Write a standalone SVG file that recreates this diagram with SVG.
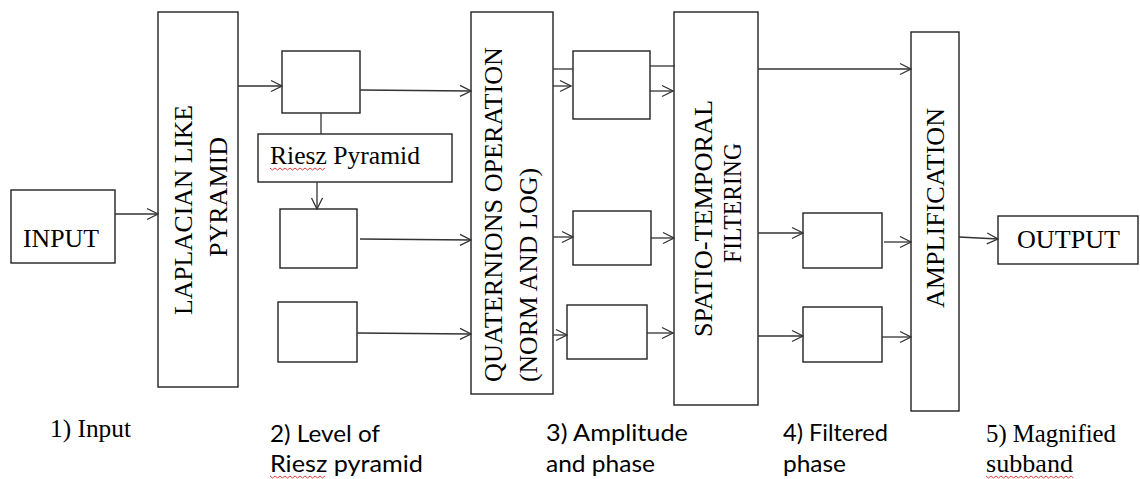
<svg xmlns="http://www.w3.org/2000/svg" width="1140" height="479" viewBox="0 0 1140 479">
<style>
.box{fill:#fff;stroke:#222;stroke-width:1.4}
.t{font-family:"Liberation Serif","Times New Roman",serif;font-size:25.5px;fill:#000}
.s{font-family:Lato,"Liberation Sans",sans-serif;font-size:23px;fill:#000}
.c{fill:none;stroke:#333;stroke-width:1.3}
.w{fill:none;stroke:#e04040;stroke-width:1}
</style>
<defs>
<marker id="a" markerUnits="userSpaceOnUse" markerWidth="14" markerHeight="14" viewBox="0 0 14 14" refX="13" refY="7" orient="auto">
<path d="M2,1.5 L13,7 L2,12.5" fill="none" stroke="#333" stroke-width="1.3"/>
</marker>
</defs>
<rect width="1140" height="479" fill="#fff"/>

<g id="input"><rect class="box" x="11" y="190" width="104" height="73"/><text class="t" x="23" y="247" textLength="76" lengthAdjust="spacingAndGlyphs">INPUT</text></g>
<g id="laplacian"><rect class="box" x="158" y="12" width="80" height="375"/>
<text class="t" transform="translate(192,315) rotate(-90)" textLength="210" lengthAdjust="spacingAndGlyphs">LAPLACIAN LIKE</text>
<text class="t" transform="translate(227,257) rotate(-90)" textLength="120" lengthAdjust="spacingAndGlyphs">PYRAMID</text></g>
<g id="level1"><rect class="box" x="282" y="51" width="78" height="62"/></g>
<g id="riesz"><rect class="box" x="258" y="134" width="194" height="48"/><text class="t" x="270" y="164" textLength="150" lengthAdjust="spacingAndGlyphs">Riesz Pyramid</text>
<path class="w" d="M270,168 l2.5,2 l2.5,-2 l2.5,2 l2.5,-2 l2.5,2 l2.5,-2 l2.5,2 l2.5,-2 l2.5,2 l2.5,-2 l2.5,2 l2.5,-2 l2.5,2 l2.5,-2 l2.5,2 l2.5,-2 l2.5,2 l2.5,-2 l2.5,2 l2.5,-2 l2.5,2 l2.5,-2"/></g>
<g id="level2"><rect class="box" x="280" y="209" width="77" height="59"/></g>
<g id="level3"><rect class="box" x="278" y="302" width="79" height="60"/></g>
<g id="quaternions"><rect class="box" x="471" y="12" width="82" height="382"/>
<text class="t" transform="translate(502,382) rotate(-90)" textLength="335" lengthAdjust="spacingAndGlyphs">QUATERNIONS OPERATION</text>
<text class="t" transform="translate(537,382) rotate(-90)" textLength="214" lengthAdjust="spacingAndGlyphs">(NORM AND LOG)</text></g>
<g id="amp1"><rect class="box" x="573" y="51" width="77" height="68"/></g>
<g id="amp2"><rect class="box" x="573" y="211" width="78" height="54"/></g>
<g id="amp3"><rect class="box" x="567" y="305" width="80" height="54"/></g>
<g id="spatio"><rect class="box" x="674" y="12" width="84" height="393"/>
<text class="t" transform="translate(712,337) rotate(-90)" textLength="237" lengthAdjust="spacingAndGlyphs">SPATIO-TEMPORAL</text>
<text class="t" transform="translate(741,263) rotate(-90)" textLength="120" lengthAdjust="spacingAndGlyphs">FILTERING</text></g>
<g id="filt1"><rect class="box" x="803" y="213" width="79" height="55"/></g>
<g id="filt2"><rect class="box" x="803" y="307" width="79" height="55"/></g>
<g id="amplification"><rect class="box" x="911" y="32" width="48" height="379"/>
<text class="t" transform="translate(944,308) rotate(-90)" textLength="200" lengthAdjust="spacingAndGlyphs">AMPLIFICATION</text></g>
<g id="output"><rect class="box" x="998" y="216" width="140" height="48"/><text class="t" x="1017" y="248" textLength="103" lengthAdjust="spacingAndGlyphs">OUTPUT</text></g>

<g id="connectors">
<line class="c" x1="115" y1="214" x2="158" y2="214" marker-end="url(#a)"/>
<line class="c" x1="238" y1="86" x2="282" y2="86" marker-end="url(#a)"/>
<line class="c" x1="321" y1="113" x2="321" y2="134"/>
<line class="c" x1="317" y1="182" x2="317" y2="209" marker-end="url(#a)"/>
<line class="c" x1="360" y1="90" x2="471" y2="91" marker-end="url(#a)"/>
<line class="c" x1="360" y1="239" x2="471" y2="240" marker-end="url(#a)"/>
<line class="c" x1="357" y1="333" x2="471" y2="334" marker-end="url(#a)"/>
<line class="c" x1="553" y1="69" x2="573" y2="69"/>
<line class="c" x1="553" y1="86" x2="571" y2="86" marker-end="url(#a)"/>
<line class="c" x1="553" y1="237" x2="573" y2="237" marker-end="url(#a)"/>
<line class="c" x1="553" y1="335" x2="567" y2="335" marker-end="url(#a)"/>
<line class="c" x1="650" y1="66" x2="675" y2="66"/>
<line class="c" x1="650" y1="91" x2="673" y2="91" marker-end="url(#a)"/>
<line class="c" x1="651" y1="238" x2="674" y2="238" marker-end="url(#a)"/>
<line class="c" x1="647" y1="333" x2="673" y2="333" marker-end="url(#a)"/>
<line class="c" x1="758" y1="69" x2="911" y2="69" marker-end="url(#a)"/>
<line class="c" x1="758" y1="233" x2="803" y2="233" marker-end="url(#a)"/>
<line class="c" x1="758" y1="336" x2="803" y2="336" marker-end="url(#a)"/>
<line class="c" x1="884" y1="242" x2="911" y2="242" marker-end="url(#a)"/>
<line class="c" x1="882" y1="337" x2="911" y2="337" marker-end="url(#a)"/>
<line class="c" x1="959" y1="237" x2="998" y2="239" marker-end="url(#a)"/>
</g>

<g id="labels">
<text class="t" x="50" y="437" textLength="81" lengthAdjust="spacingAndGlyphs">1) Input</text>
<text class="s" x="270" y="442" textLength="110" lengthAdjust="spacingAndGlyphs">2) Level of</text>
<text class="s" x="270" y="472" textLength="153" lengthAdjust="spacingAndGlyphs">Riesz  pyramid</text>
<path class="w" d="M270,476 l2.5,2 l2.5,-2 l2.5,2 l2.5,-2 l2.5,2 l2.5,-2 l2.5,2 l2.5,-2 l2.5,2 l2.5,-2 l2.5,2 l2.5,-2 l2.5,2 l2.5,-2 l2.5,2 l2.5,-2 l2.5,2 l2.5,-2 l2.5,2 l2.5,-2 l2.5,2 l2.5,-2"/>
<text class="s" x="546" y="441" textLength="142" lengthAdjust="spacingAndGlyphs">3)  Amplitude</text>
<text class="s" x="546" y="472" textLength="109" lengthAdjust="spacingAndGlyphs">and phase</text>
<text class="s" x="783" y="441" textLength="105" lengthAdjust="spacingAndGlyphs">4) Filtered</text>
<text class="s" x="783" y="472" textLength="63" lengthAdjust="spacingAndGlyphs">phase</text>
<text class="t" x="986" y="442" textLength="130" lengthAdjust="spacingAndGlyphs">5) Magnified</text>
<text class="t" x="986" y="472" textLength="87" lengthAdjust="spacingAndGlyphs">subband</text>
<path class="w" d="M986,476 l2.5,2 l2.5,-2 l2.5,2 l2.5,-2 l2.5,2 l2.5,-2 l2.5,2 l2.5,-2 l2.5,2 l2.5,-2 l2.5,2 l2.5,-2 l2.5,2 l2.5,-2 l2.5,2 l2.5,-2 l2.5,2 l2.5,-2 l2.5,2 l2.5,-2 l2.5,2 l2.5,-2 l2.5,2 l2.5,-2 l2.5,2 l2.5,-2 l2.5,2 l2.5,-2 l2.5,2 l2.5,-2 l2.5,2 l2.5,-2 l2.5,2 l2.5,-2 l2.5,2"/>
</g>
</svg>
